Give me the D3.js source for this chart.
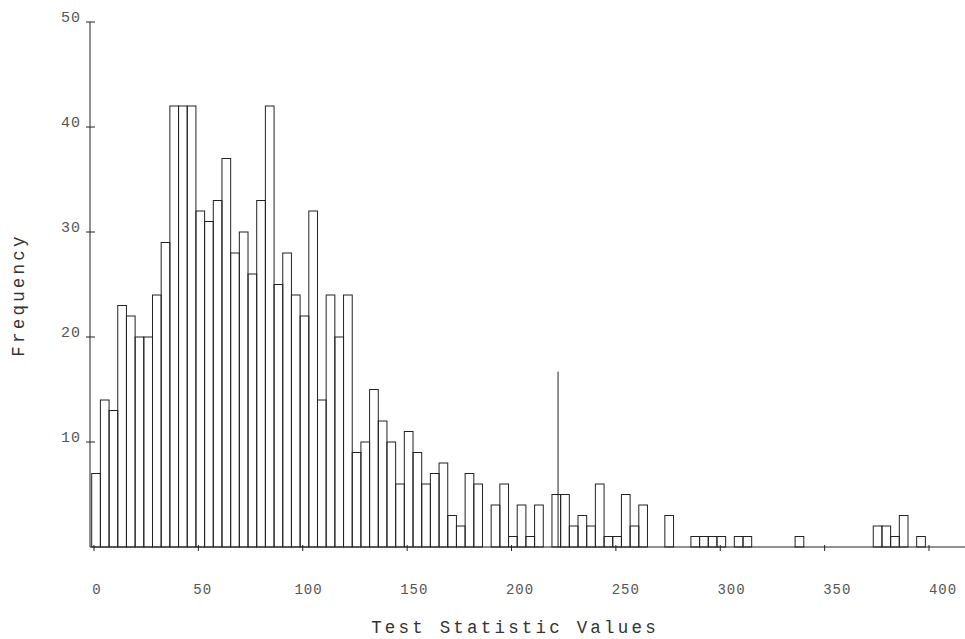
<!DOCTYPE html>
<html lang="en">
<head>
    <meta charset="UTF-8">
    <title>Test Statistic Values</title>
    <script src="https://d3js.org/d3.v7.min.js"></script>
    <style>
        body {
            margin: 0;
            padding: 0;
            background: #fff;
        }
        text {
            font-family: "Liberation Mono", "DejaVu Sans Mono", monospace;
        }
    </style>
</head>
<body>
    <svg width="965" height="639"></svg>
    <script>
        // histogram counts, one per bin (left to right)
        const counts = [7, 14, 13, 23, 22, 20, 20, 24, 29, 42,
                        42, 42, 32, 31, 33, 37, 28, 30, 26, 33,
                        42, 25, 28, 24, 22, 32, 14, 24, 20, 24,
                        9, 10, 15, 12, 10, 6, 11, 9, 6, 7,
                        8, 3, 2, 7, 6, 0, 4, 6, 1, 4,
                        1, 4, 0, 5, 5, 2, 3, 2, 6, 1,
                        1, 5, 2, 4, 0, 0, 3, 0, 0, 1,
                        1, 1, 1, 0, 1, 1, 0, 0, 0, 0,
                        0, 1, 0, 0, 0, 0, 0, 0, 0, 0,
                        2, 2, 1, 3, 0, 1];
        const binStart = -1.1;   // left edge of first bin
        const binWidth = 4.16;
        const xTicks = [0, 50, 100, 150, 200, 250, 300, 350, 400];
        const yTicks = [10, 20, 30, 40, 50];
        // observed statistic marker
        const observed = 222.3;
        const observedHeight = 16.7;

        const svg = d3.select("svg");
        const ink = "#222";

        const x = d3.scaleLinear().domain([0, 400]).range([94, 929]);
        const xLabel = d3.scaleLinear().domain([0, 400]).range([97, 943]); // plotter labels drift right
        const y = d3.scaleLinear().domain([0, 50]).range([547, 22]);

        // bars
        const bins = counts.map((c, i) => ({x0: binStart + i * binWidth, x1: binStart + (i + 1) * binWidth, n: c}))
                           .filter(d => d.n > 0);
        svg.append("g").selectAll("rect")
           .data(bins)
           .join("rect")
           .attr("x", d => x(d.x0))
           .attr("y", d => y(d.n))
           .attr("width", d => x(d.x1) - x(d.x0))
           .attr("height", d => y(0) - y(d.n))
           .attr("fill", "none")
           .attr("stroke", ink)
           .attr("stroke-width", 1);

        // observed value line
        svg.append("line")
           .attr("x1", x(observed)).attr("x2", x(observed))
           .attr("y1", y(0)).attr("y2", y(observedHeight))
           .attr("stroke", ink)
           .attr("stroke-width", 1);

        // x axis
        svg.append("line")
           .attr("x1", 90).attr("x2", 965)
           .attr("y1", y(0)).attr("y2", y(0))
           .attr("stroke", ink);
        svg.append("g").selectAll("line")
           .data(xTicks)
           .join("line")
           .attr("x1", d => x(d)).attr("x2", d => x(d))
           .attr("y1", y(0) - 2).attr("y2", y(0) + 4)
           .attr("stroke", ink);
        svg.append("g").selectAll("text")
           .data(xTicks)
           .join("text")
           .attr("x", d => xLabel(d))
           .attr("y", 594)
           .attr("text-anchor", "middle")
           .attr("fill", "#555")
           .style("font-size", "14px")
           .style("letter-spacing", "1px")
           .text(d => d);

        // y axis
        svg.append("line")
           .attr("x1", 90).attr("x2", 90)
           .attr("y1", y(0)).attr("y2", y(50))
           .attr("stroke", ink);
        svg.append("g").selectAll("line")
           .data(yTicks)
           .join("line")
           .attr("x1", 86).attr("x2", 95)
           .attr("y1", d => y(d)).attr("y2", d => y(d))
           .attr("stroke", ink);
        svg.append("g").selectAll("text")
           .data(yTicks)
           .join("text")
           .attr("x", 81)
           .attr("y", d => y(d))
           .attr("text-anchor", "end")
           .attr("fill", "#555")
           .style("font-size", "15px")
           .style("letter-spacing", "1px")
           .text(d => d);

        // axis titles
        svg.append("text")
           .attr("x", 515)
           .attr("y", 633)
           .attr("text-anchor", "middle")
           .attr("fill", "#333")
           .style("font-size", "17.5px")
           .style("letter-spacing", "3.2px")
           .text("Test Statistic Values");

        svg.append("text")
           .attr("transform", "translate(24,295) rotate(-90)")
           .attr("text-anchor", "middle")
           .attr("fill", "#333")
           .style("font-size", "17.5px")
           .style("letter-spacing", "3.2px")
           .text("Frequency");
    </script>
</body>
</html>
